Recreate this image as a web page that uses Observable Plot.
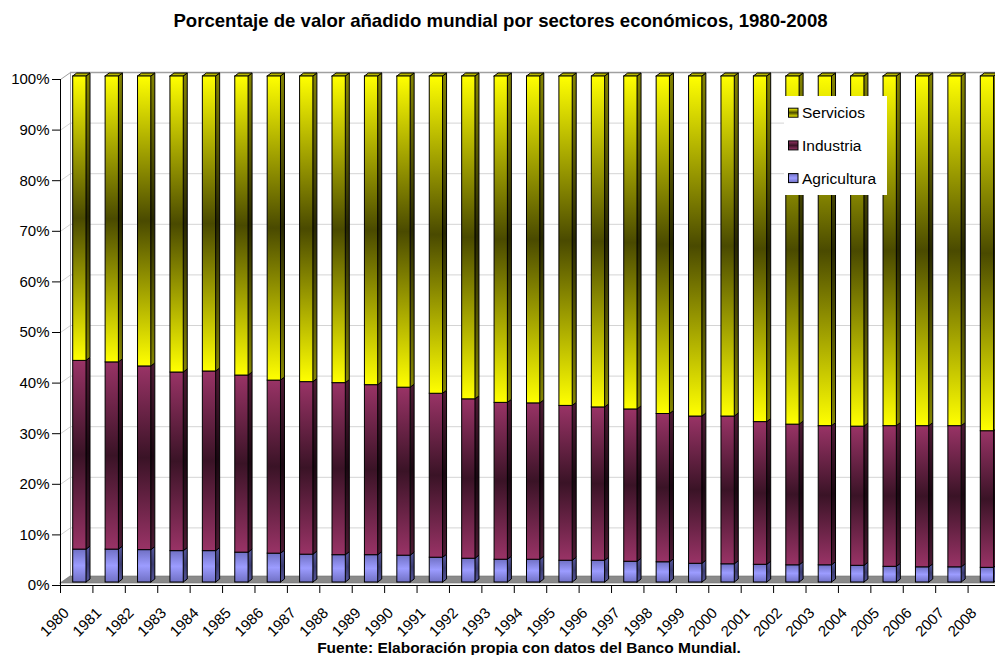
<!DOCTYPE html>
<html>
<head>
<meta charset="utf-8">
<script src="https://cdn.jsdelivr.net/npm/d3@7"></script>
<script src="https://cdn.jsdelivr.net/npm/@observablehq/plot@0.6"></script>
<style>
  body { margin: 0; background: #fff; font-family: "Liberation Sans", Arial, sans-serif; }
  #wrap { position: relative; width: 995px; height: 655px; overflow: hidden; }
  #title { position: absolute; left: 500.5px; top: 10.5px; transform: translateX(-50%); white-space: nowrap;
           font-weight: bold; font-size: 18.6px; line-height: 19px; color: #000; }
  #caption { position: absolute; left: 529px; top: 640px; transform: translateX(-50%); white-space: nowrap;
             font-weight: bold; font-size: 15.5px; line-height: 15.5px; color: #000; }
</style>
</head>
<body>
<div id="wrap">
  <div id="chart"></div>
  <div id="title">Porcentaje de valor añadido mundial por sectores económicos, 1980-2008</div>
  <div id="caption">Fuente: Elaboración propia con datos del Banco Mundial.</div>
</div>
<script>
// Años y participación (%) de cada sector en el valor añadido mundial
const years = [1980, 1981, 1982, 1983, 1984, 1985, 1986, 1987, 1988, 1989,
               1990, 1991, 1992, 1993, 1994, 1995, 1996, 1997, 1998, 1999,
               2000, 2001, 2002, 2003, 2004, 2005, 2006, 2007, 2008];
const agricultura = [6.5, 6.5, 6.4, 6.2, 6.2, 5.9, 5.7, 5.5, 5.4, 5.4,
                     5.3, 4.9, 4.7, 4.5, 4.5, 4.3, 4.3, 4.1, 4.0, 3.7,
                     3.6, 3.5, 3.4, 3.4, 3.3, 3.1, 3.0, 3.0, 2.9];
const industria = [37.3, 37.0, 36.3, 35.3, 35.5, 35.0, 34.2, 34.1, 34.0, 33.6,
                   33.2, 32.4, 31.5, 31.0, 30.9, 30.6, 30.3, 30.1, 29.3, 29.1,
                   29.2, 28.2, 27.8, 27.5, 27.5, 27.8, 27.9, 27.9, 27.0];
const servicios = [56.2, 56.5, 57.3, 58.5, 58.3, 59.1, 60.1, 60.4, 60.6, 61.0,
                   61.5, 62.7, 63.8, 64.5, 64.6, 65.1, 65.4, 65.8, 66.7, 67.2,
                   67.2, 68.3, 68.8, 69.1, 69.2, 69.1, 69.1, 69.1, 70.1];
const yTicks = [0, 10, 20, 30, 40, 50, 60, 70, 80, 90, 100];
const legendOrder = ["Servicios", "Industria", "Agricultura"];

// Series apiladas de abajo hacia arriba, con sus rellenos degradados
const series = [
  { key: "Agricultura", values: agricultura, front: "url(#agriFront)", side: "url(#agriSide)" },
  { key: "Industria",   values: industria,   front: "url(#indFront)",  side: "url(#indSide)" },
  { key: "Servicios",   values: servicios,   front: "url(#servFront)", side: "url(#servSide)" }
];

// Geometría del efecto 3D (en unidades de las escalas: años y %)
const PX_PER_YEAR = 940 / 29;     // x: [1980, 2009] -> [60, 1000]
const PX_PER_PCT = 506 / 100;     // y: [0, 100] -> [585, 79]
const BAR_L = 12.7 / PX_PER_YEAR;
const BAR_R = 26.0 / PX_PER_YEAR;
const BAR_DX = 4 / PX_PER_YEAR;
const BAR_DY = 3 / PX_PER_PCT;
const WALL_DX = 10 / PX_PER_YEAR;
const WALL_DY = 7 / PX_PER_PCT;

// Segmentos apilados al 100 %
const segs = [];
years.forEach((year, i) => {
  const total = d3.sum(series, s => s.values[i]);
  let acc = 0;
  for (const s of series) {
    const v = s.values[i] / total * 100;
    segs.push({ year, serie: s.key, lo: acc, hi: acc + v });
    acc += v;
  }
});

// Cara lateral de cada segmento (paralelogramo)
const sides = segs.flatMap(d => [
  { id: d.serie + d.year, serie: d.serie, x: d.year + BAR_R, y1: d.lo, y2: d.hi },
  { id: d.serie + d.year, serie: d.serie, x: d.year + BAR_R + BAR_DX, y1: d.lo + BAR_DY, y2: d.hi + BAR_DY }
]);
// Cara superior de cada barra
const tops = segs.filter(d => d.serie === "Servicios").flatMap(d => [
  { year: d.year, y: d.hi, x1: d.year + BAR_L, x2: d.year + BAR_R },
  { year: d.year, y: d.hi + BAR_DY, x1: d.year + BAR_L + BAR_DX, x2: d.year + BAR_R + BAR_DX }
]);
// Suelo del gráfico
const floor = [
  { x: years[0], y1: 0, y2: 0 },
  { x: years[0] + WALL_DX, y1: 0, y2: WALL_DY },
  { x: years[years.length - 1] + 1, y1: 0, y2: WALL_DY }
];
const gridTicks = yTicks.filter(t => t > 0);

const marks = [
  // Pared trasera: líneas de cuadrícula con su tramo oblicuo
  Plot.ruleY(gridTicks, { y: d => d + WALL_DY, x1: years[0] + WALL_DX, x2: years[years.length - 1] + 1,
                          stroke: d => d === 100 ? "#a0a0a0" : "#d4d4d4", strokeWidth: d => d === 100 ? 1.5 : 1 }),
  Plot.link(gridTicks, { x1: years[0], y1: d => d, x2: years[0] + WALL_DX, y2: d => d + WALL_DY,
                         stroke: d => d === 100 ? "#a0a0a0" : "#d4d4d4" }),
  Plot.ruleX([years[0] + WALL_DX], { y1: WALL_DY, y2: 100 + WALL_DY, stroke: "#a8a8a8" }),
  Plot.areaY(floor, { x: "x", y1: "y1", y2: "y2", fill: "#8a8a8a", stroke: "#6e6e6e", strokeWidth: 0.6, dy: -2 }),
  // Ejes
  Plot.ruleX([years[0]], { y1: 0, y2: 100, stroke: "black" }),
  Plot.ruleY([0], { stroke: "black" }),
  Plot.axisY({ ticks: yTicks, tickFormat: d => d + "%", tickSize: 8, tickPadding: 3, label: null }),
  Plot.axisX({ ticks: years, tickFormat: () => "", tickSize: 8, label: null }),
  Plot.text(years, { x: d => d, y: 0, text: d => String(d), rotate: -45, textAnchor: "end",
                     lineAnchor: "middle", dx: 6, dy: 25 })
];

// Barras: laterales, tapa y frentes
for (const s of series) {
  marks.push(Plot.areaY(sides.filter(d => d.serie === s.key), {
    x: "x", y1: "y1", y2: "y2", z: "id", fill: s.side, stroke: "black", strokeWidth: 1, dy: -3
  }));
}
marks.push(Plot.areaX(tops, { y: "y", x1: "x1", x2: "x2", z: "year", fill: "#b5b500", stroke: "black", strokeWidth: 1, dy: -3 }));
for (const s of series) {
  marks.push(Plot.rect(segs.filter(d => d.serie === s.key), {
    x1: d => d.year + BAR_L, x2: d => d.year + BAR_R, y1: "lo", y2: "hi",
    fill: s.front, stroke: "black", strokeWidth: 1, dy: -3
  }));
}

const chart = Plot.plot({
  width: 995,
  height: 655,
  marginLeft: 60,
  marginRight: 0,
  marginTop: 79,
  marginBottom: 70,
  x: { type: "linear", domain: [years[0], years[years.length - 1] + 1], range: [60, 1000] },
  y: { domain: [0, 100], range: [585, 79] },
  style: { fontFamily: '"Liberation Sans", Arial, sans-serif', fontSize: "15px", background: "white", color: "black" },
  marks
});

// Degradados de relleno
const defs = d3.select(chart).insert("defs", ":first-child");
function gradient(id, colors) {
  const g = defs.append("linearGradient").attr("id", id)
    .attr("x1", 0).attr("y1", 0).attr("x2", 0).attr("y2", 1);
  colors.forEach((c, i) => g.append("stop").attr("offset", i / (colors.length - 1)).attr("stop-color", c));
}
gradient("servFront", ["#ffff00", "#4a4a00", "#ffff00"]);
gradient("servSide", ["#858500", "#262600", "#858500"]);
gradient("indFront", ["#993366", "#3a1326", "#993366"]);
gradient("indSide", ["#4d1a33", "#1a0711", "#4d1a33"]);
gradient("agriFront", ["#7070c4", "#9c9cff", "#7070c4"]);
gradient("agriSide", ["#56569c", "#3c3c72", "#56569c"]);

// Leyenda
const legendFill = { Servicios: "url(#servFront)", Industria: "url(#indFront)", Agricultura: "url(#agriFront)" };
const lg = d3.select(chart).append("g").attr("font-size", 15.5).attr("text-anchor", "start");
lg.append("rect").attr("x", 784).attr("y", 96).attr("width", 103).attr("height", 99).attr("fill", "white");
legendOrder.forEach((k, i) => {
  const cy = 112.7 + i * 32.7;
  lg.append("rect").attr("x", 788.5).attr("y", cy - 4.5).attr("width", 9.5).attr("height", 9)
    .attr("fill", legendFill[k]).attr("stroke", "black").attr("stroke-width", 1);
  lg.append("text").attr("x", 802).attr("y", cy).attr("dy", "0.35em").attr("fill", "black")
    .attr("text-anchor", "start").text(k);
});

document.getElementById("chart").appendChild(chart);
</script>
</body>
</html>
